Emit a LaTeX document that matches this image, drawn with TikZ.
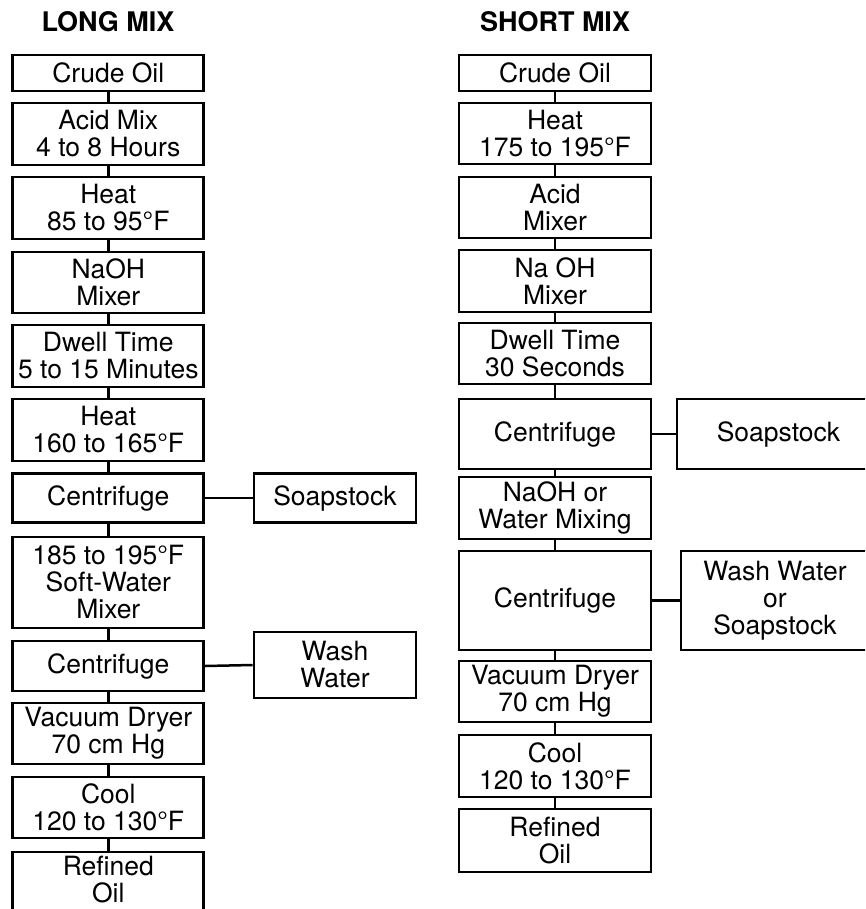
\documentclass[tikz,border=0pt]{standalone}
\usepackage{fontspec}
\setmainfont{TeX Gyre Heros}
\begin{document}
\begin{tikzpicture}[x=1pt,y=-1pt,
  every node/.style={font=\fontsize{26.5}{27}\selectfont},
  pbox/.style={draw, line width=2.7pt, inner sep=0pt, align=center, minimum width=#1},
  pbox/.default=191pt,
  title/.style={font=\fontsize{27}{27}\selectfont\bfseries, anchor=base},
  link/.style={line width=2.5pt}]
\clip (0,0) rectangle (865,909);
\fill[white] (0,0) rectangle (865,909);
% titles
\node[title] (tl) at (108,32) {LONG MIX};
\node[title] (tr) at (555,32) {SHORT MIX};
% left column
\node[pbox, minimum height=36pt] (l1) at (108.3,73) {Crude Oil};
\node[pbox, minimum height=62pt] (l2) at (108.3,134) {Acid Mix\\4 to 8 Hours};
\node[pbox, minimum height=62pt] (l3) at (108.3,208) {Heat\\85 to 95°F};
\node[pbox, minimum height=61pt] (l4) at (108.3,282.5) {NaOH\\Mixer};
\node[pbox, minimum height=62pt] (l5) at (108.3,356) {Dwell Time\\5 to 15 Minutes};
\node[pbox, minimum height=62pt] (l6) at (108.3,430) {Heat\\160 to 165°F};
\node[pbox, minimum height=49pt] (l7) at (108.3,498) {Centrifuge};
\node[pbox, minimum height=91pt] (l8) at (108.3,582.5) {185 to 195°F\\Soft-Water\\Mixer};
\node[pbox, minimum height=50pt] (l9) at (108.3,666) {Centrifuge};
\node[pbox, minimum height=61pt] (l10) at (108.3,733.5) {Vacuum Dryer\\70 cm Hg};
\node[pbox, minimum height=61pt] (l11) at (108.3,807.5) {Cool\\120 to 130°F};
\node[pbox, minimum height=66pt] (l12) at (108.3,885) {};
\node[align=center, inner sep=0pt] (l12t) at (108.3,879.5) {Refined\\Oil};
\node[pbox=162pt, minimum height=49pt] (ls1) at (335,498) {Soapstock};
\node[pbox=162pt, minimum height=66pt] (ls2) at (335,665) {Wash\\Water};
\foreach \a/\b in {l1/l2,l2/l3,l3/l4,l4/l5,l5/l6,l6/l7,l7/l8,l8/l9,l9/l10,l10/l11,l11/l12}
  \draw[link] (\a.south) -- (\b.north);
\draw[link] (l7.east) -- (ls1.west);
\draw[link] (l9.east) -- (ls2.west);
% right column
\node[pbox=192pt, minimum height=36pt] (r1) at (555,73) {Crude Oil};
\node[pbox=192pt, minimum height=61pt] (r2) at (555,133.5) {Heat\\175 to 195°F};
\node[pbox=192pt, minimum height=61pt] (r3) at (555,207.5) {Acid\\Mixer};
\node[pbox=192pt, minimum height=62pt] (r4) at (555,281) {Na OH\\Mixer};
\node[pbox=192pt, minimum height=61pt] (r5) at (555,353.5) {Dwell Time\\30 Seconds};
\node[pbox=192pt, minimum height=70pt] (r6) at (555,434) {Centrifuge};
\node[pbox=192pt, minimum height=62pt] (r7) at (555,508) {NaOH or\\Water Mixing};
\node[pbox=192pt, minimum height=99pt] (r8) at (555,600.5) {Centrifuge};
\node[pbox=192pt, minimum height=61pt] (r9) at (555,691.5) {Vacuum Dryer\\70 cm Hg};
\node[pbox=192pt, minimum height=62pt] (r10) at (555,766) {Cool\\120 to 130°F};
\node[pbox=192pt, minimum height=63pt] (r11) at (555,840.5) {Refined\\Oil};
\node[pbox=203pt, minimum height=70pt] (rs1) at (778.5,434) {Soapstock};
\node[pbox=188pt, minimum height=99pt] (rs2) at (775,600.5) {Wash Water\\or\\Soapstock};
\foreach \a/\b in {r1/r2,r2/r3,r3/r4,r4/r5,r5/r6,r6/r7,r7/r8,r8/r9,r9/r10,r10/r11}
  \draw[link] (\a.south) -- (\b.north);
\draw[link] (r6.east) -- (rs1.west);
\draw[link] (r8.east) -- (rs2.west);
\end{tikzpicture}
\end{document}
